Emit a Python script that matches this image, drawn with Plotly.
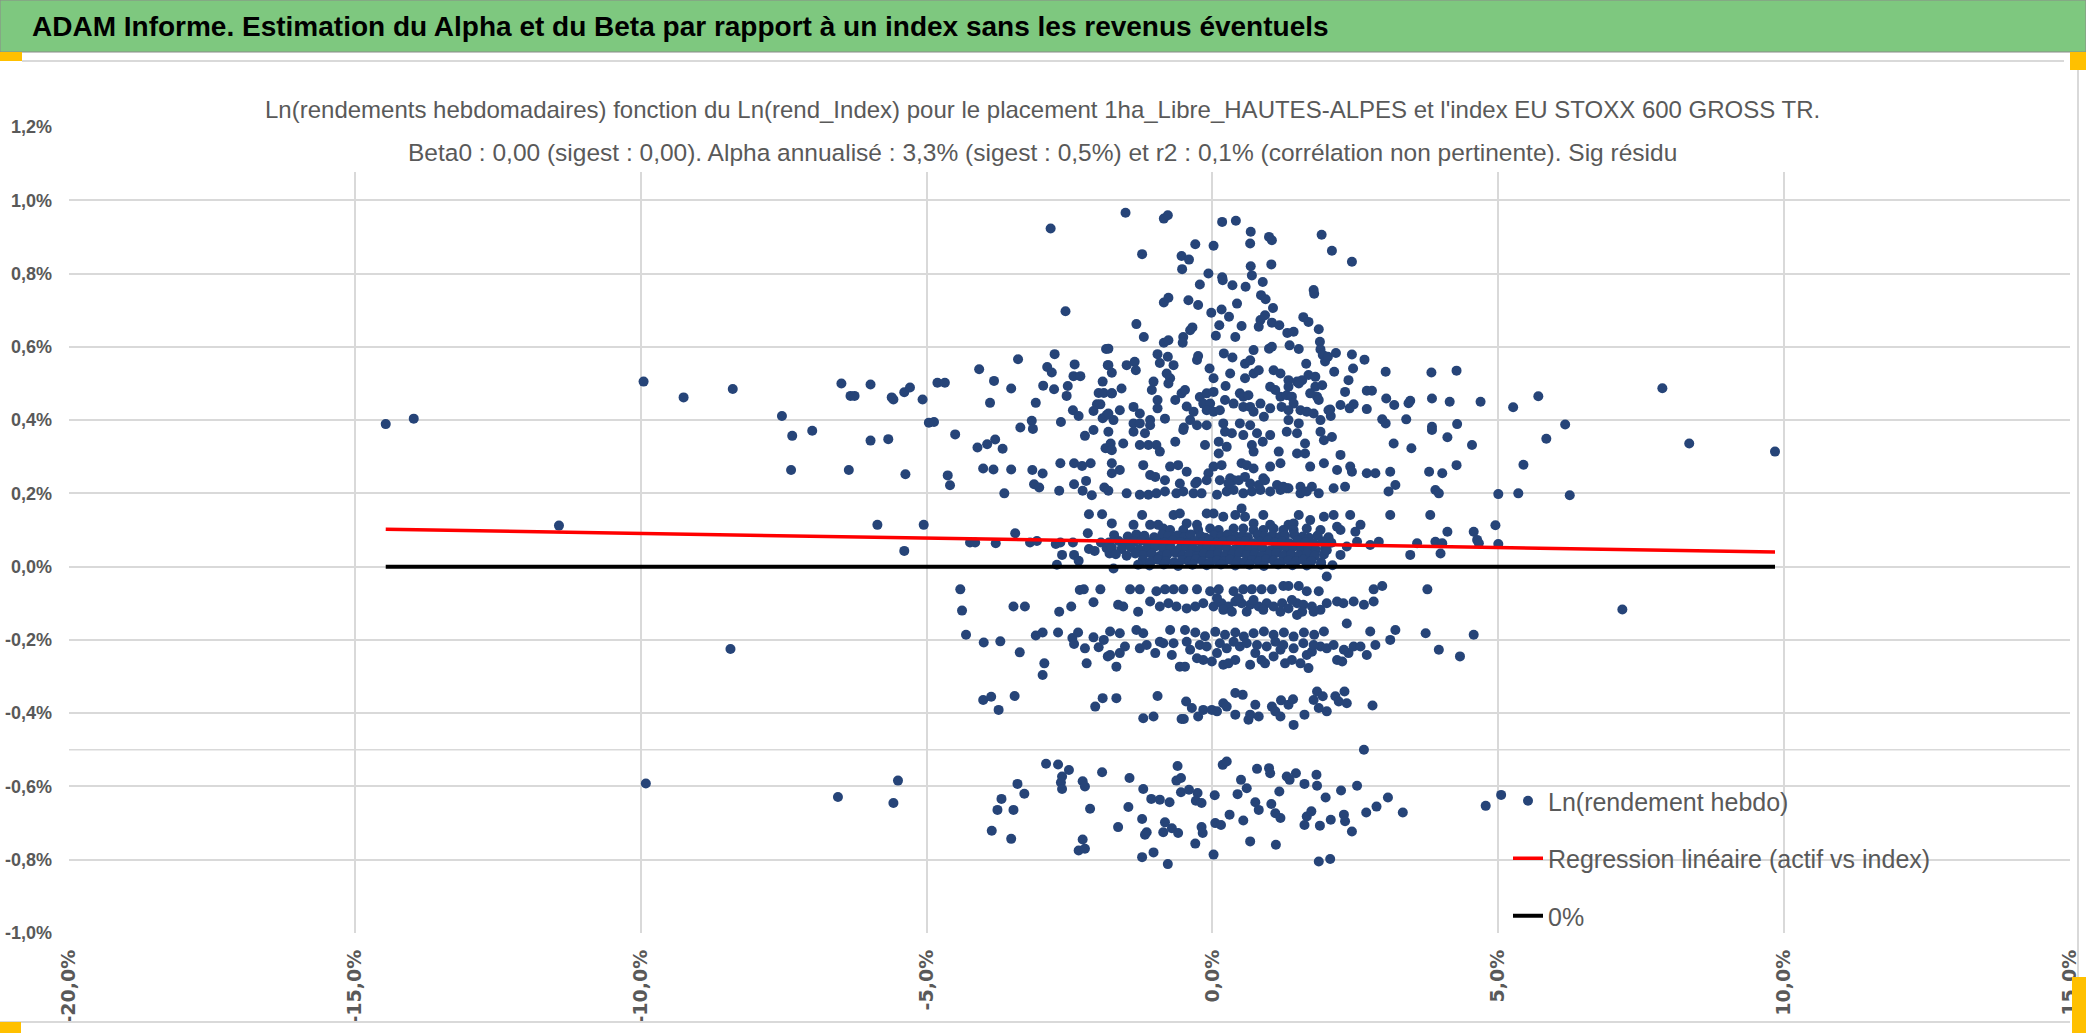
"""Alpha / Beta scatter : Ln(rendement hebdo) vs Ln(rend_Index)."""

import plotly.graph_objects as go

# --- data (values in %) -----------------------------------------------------
# isolated points, far left / far right
outer_points = [(-14.46, 0.389), (-13.97, 0.404), (-11.43, 0.112), (-9.95, 0.505),
                (-9.25, 0.462), (-9.91, -0.592), (5.26, 0.435), (5.44, 0.278),
                (5.70, 0.465), (5.84, 0.349), (5.0, 0.198), (5.35, 0.2),
                (6.17, 0.388), (6.25, 0.195), (7.17, -0.117), (7.87, 0.487),
                (8.34, 0.336), (9.84, 0.314), (4.95, 0.113), (5.0, 0.062),
                (5.05, -0.623)]

# index between -9% and -1.8%
left_points = [
    (-2.83, 0.923), (-2.57, 0.697), (-1.86, 0.594), (-2.76, 0.580), (-3.40, 0.566),
    (-4.08, 0.539), (-2.89, 0.545), (-2.81, 0.53), (-2.41, 0.552), (-2.43, 0.52),
    (-2.31, 0.52), (-1.83, 0.55), (-8.39, 0.485), (-6.49, 0.50), (-5.98, 0.497),
    (-6.33, 0.466), (-6.26, 0.466), (-5.61, 0.462), (-5.58, 0.456), (-5.39, 0.476),
    (-5.29, 0.489), (-5.07, 0.456), (-4.81, 0.502), (-4.68, 0.502), (-3.82, 0.507),
    (-3.52, 0.486), (-3.89, 0.447), (-2.96, 0.494), (-2.77, 0.484), (-2.53, 0.493),
    (-2.55, 0.466), (-3.09, 0.447), (-2.44, 0.427), (-2.34, 0.411), (-2.08, 0.425),
    (-2.02, 0.443), (-1.96, 0.443), (-1.99, 0.474), (-1.90, 0.474), (-1.92, 0.405),
    (-1.85, 0.414), (-1.92, 0.505), (-1.76, 0.473), (-7.53, 0.411), (-7.35, 0.357),
    (-7.0, 0.371), (-7.37, 0.264), (-6.36, 0.264), (-5.98, 0.344), (-5.67, 0.348),
    (-5.37, 0.252), (-4.96, 0.393), (-4.87, 0.395), (-4.50, 0.361), (-4.63, 0.249),
    (-4.59, 0.222), (-4.11, 0.325), (-3.94, 0.334), (-3.80, 0.347), (-3.67, 0.322),
    (-4.01, 0.268), (-3.83, 0.265), (-3.52, 0.265), (-3.64, 0.200), (-3.36, 0.38),
    (-3.16, 0.398), (-3.14, 0.376), (-2.65, 0.395), (-3.15, 0.264), (-2.97, 0.254),
    (-3.12, 0.225), (-3.03, 0.216), (-2.66, 0.282), (-2.68, 0.207), (-2.42, 0.282),
    (-2.28, 0.275), (-2.13, 0.282), (-2.42, 0.225), (-2.27, 0.207), (-2.21, 0.234),
    (-2.11, 0.195), (-2.23, 0.357), (-2.08, 0.373), (-1.82, 0.368), (-1.87, 0.323),
    (-1.82, 0.323), (-1.89, 0.216), (-1.82, 0.207), (-2.16, 0.143), (-1.93, 0.143),
    (-5.86, 0.114), (-5.05, 0.114), (-5.39, 0.043), (-4.24, 0.066), (-4.15, 0.066),
    (-3.79, 0.064), (-3.45, 0.091), (-3.19, 0.066), (-3.07, 0.07), (-2.74, 0.062),
    (-2.66, 0.066), (-2.63, 0.032), (-2.72, 0.005), (-2.44, 0.066), (-2.42, 0.032),
    (-2.34, 0.016), (-2.18, 0.091), (-2.16, 0.048), (-2.06, 0.043), (-1.95, 0.066),
    (-1.85, 0.05), (-1.80, 0.036), (-4.41, -0.062), (-4.38, -0.12), (-3.48, -0.109),
    (-3.28, -0.109), (-2.68, -0.123), (-2.47, -0.109), (-2.32, -0.064), (-2.25, -0.062),
    (-2.08, -0.097), (-1.96, -0.062), (-8.43, -0.225), (-4.31, -0.186), (-4.0, -0.207),
    (-3.71, -0.204), (-3.37, -0.234), (-3.09, -0.188), (-2.97, -0.18), (-2.70, -0.18),
    (-2.45, -0.195), (-2.35, -0.18), (-2.42, -0.211), (-2.23, -0.223), (-2.08, -0.193),
    (-1.99, -0.220), (-1.90, -0.2), (-1.83, -0.245), (-1.79, -0.177), (-2.94, -0.264),
    (-2.97, -0.296), (-2.20, -0.264), (-4.01, -0.364), (-3.87, -0.355), (-3.46, -0.353),
    (-3.74, -0.391), (-2.05, -0.382), (-1.92, -0.359), (-6.55, -0.629), (-5.58, -0.645),
    (-5.50, -0.584), (-3.86, -0.721), (-3.76, -0.664), (-3.69, -0.634), (-3.48, -0.664),
    (-3.52, -0.743), (-3.41, -0.593), (-3.29, -0.620), (-2.91, -0.538), (-2.70, -0.54),
    (-2.51, -0.555), (-2.63, -0.573), (-2.65, -0.589), (-2.63, -0.607), (-2.27, -0.586),
    (-2.23, -0.6), (-2.14, -0.661), (-1.93, -0.561), (-2.27, -0.745), (-2.34, -0.775),
    (-2.23, -0.770)]

# centre, upper half (> 0.38%)
upper_points = [
    (-1.52, 0.966), (-0.85, 0.95), (-0.78, 0.959), (0.17, 0.941), (0.41, 0.944),
    (0.67, 0.914), (0.66, 0.882), (0.99, 0.900), (1.04, 0.891), (1.91, 0.906),
    (2.09, 0.862), (2.44, 0.832), (-1.23, 0.853), (-0.30, 0.88), (0.02, 0.876),
    (-0.54, 0.848), (-0.41, 0.838), (-0.53, 0.812), (-0.07, 0.8), (0.67, 0.82),
    (0.69, 0.795), (1.03, 0.825), (0.17, 0.79), (0.18, 0.782), (0.35, 0.768),
    (0.58, 0.764), (0.88, 0.777), (-0.22, 0.77), (1.77, 0.755), (1.78, 0.745),
    (-0.85, 0.721), (-0.77, 0.734), (-0.42, 0.727), (-0.25, 0.714), (0.85, 0.741),
    (0.93, 0.73), (1.06, 0.706), (0.43, 0.718), (0.16, 0.702), (-0.02, 0.693),
    (0.29, 0.682), (0.12, 0.659), (0.51, 0.657), (-1.33, 0.662), (-1.20, 0.627),
    (-0.35, 0.653), (-0.39, 0.645), (0.84, 0.673), (0.92, 0.686), (0.81, 0.655),
    (1.04, 0.666), (1.17, 0.659), (1.59, 0.681), (1.68, 0.668), (1.86, 0.648),
    (1.31, 0.638), (1.42, 0.641), (0.06, 0.630), (0.40, 0.627), (-0.51, 0.627),
    (-0.52, 0.611), (-0.85, 0.611), (-0.77, 0.618), (1.35, 0.604), (1.51, 0.594),
    (1.88, 0.614), (1.89, 0.593), (1.93, 0.578), (1.97, 0.560), (2.02, 0.573),
    (0.99, 0.595), (1.04, 0.6), (0.72, 0.591), (2.16, 0.583), (2.44, 0.579),
    (2.66, 0.565), (3.03, 0.532), (3.83, 0.530), (4.27, 0.535), (2.46, 0.541),
    (2.13, 0.532), (2.38, 0.509), (2.32, 0.477), (2.70, 0.48), (2.79, 0.48),
    (3.04, 0.459), (3.18, 0.441), (3.46, 0.453), (3.43, 0.446), (3.84, 0.459),
    (4.15, 0.45), (4.69, 0.45), (2.70, 0.43), (2.47, 0.443), (2.40, 0.432),
    (2.24, 0.441), (2.97, 0.402), (3.03, 0.391), (3.39, 0.402), (3.84, 0.382),
    (4.28, 0.389), (2.06, 0.429), (2.07, 0.411), (2.03, 0.427), (0.20, 0.582),
    (0.35, 0.571), (-0.27, 0.564), (-0.25, 0.575), (-0.05, 0.541), (0.02, 0.514),
    (0.31, 0.527), (0.23, 0.493), (0.57, 0.514), (0.72, 0.527), (0.81, 0.536),
    (0.57, 0.554), (0.66, 0.563), (1.07, 0.536), (1.19, 0.527), (1.33, 0.509),
    (1.48, 0.505), (1.57, 0.509), (1.68, 0.523), (1.80, 0.518), (1.64, 0.554),
    (1.51, 0.5), (-0.96, 0.58), (-0.78, 0.573), (-0.92, 0.556), (-0.68, 0.55),
    (-0.80, 0.527), (-0.74, 0.514), (-0.77, 0.5), (-1.03, 0.505), (-1.06, 0.482),
    (-0.96, 0.455), (-0.96, 0.432), (-0.65, 0.455), (-0.54, 0.473), (-0.48, 0.482),
    (-0.45, 0.437), (-0.33, 0.423), (-0.39, 0.4), (-1.50, 0.55), (-1.36, 0.559),
    (-1.34, 0.536), (-1.82, 0.595), (-1.82, 0.55), (-1.76, 0.529), (-1.59, 0.486),
    (-1.76, 0.473), (-1.62, 0.427), (-1.38, 0.436), (-1.27, 0.418), (-1.09, 0.4),
    (-1.73, 0.4), (-1.82, 0.418), (-0.83, 0.404), (-0.22, 0.463), (-0.10, 0.473),
    (0.02, 0.477), (-0.16, 0.445), (-0.04, 0.445), (-0.10, 0.427), (0.02, 0.423),
    (0.13, 0.427), (0.22, 0.455), (0.37, 0.445), (0.48, 0.473), (0.54, 0.464),
    (0.63, 0.468), (0.54, 0.436), (0.66, 0.436), (0.72, 0.423), (0.84, 0.445),
    (0.90, 0.409), (1.01, 0.432), (1.19, 0.464), (1.30, 0.468), (1.39, 0.464),
    (1.42, 0.445), (1.21, 0.436), (1.33, 0.427), (1.54, 0.427), (1.65, 0.423),
    (1.77, 0.418), (1.83, 0.464), (1.89, 0.4), (1.33, 0.4), (1.51, 0.391),
    (1.01, 0.491), (1.10, 0.482), (1.33, 0.491), (1.80, 0.491), (1.92, 0.495),
    (1.71, 0.473), (1.86, 0.455), (0.48, 0.391), (0.66, 0.386), (0.19, 0.391),
    (-0.10, 0.386), (-0.27, 0.386), (-1.38, 0.391), (-1.27, 0.391), (-1.09, 0.386),
    (-0.50, 0.380)]

# centre, 0.09% to 0.37%
middle_points = [
    (-1.78, 0.336), (-1.56, 0.336), (-1.76, 0.318), (-1.27, 0.332), (-1.12, 0.332),
    (-0.98, 0.332), (-0.92, 0.314), (-0.65, 0.341), (-0.13, 0.332), (0.11, 0.341),
    (0.11, 0.309), (0.25, 0.327), (0.69, 0.332), (0.72, 0.314), (0.88, 0.341),
    (1.16, 0.314), (1.48, 0.309), (1.62, 0.309), (1.62, 0.336), (1.95, 0.345),
    (2.09, 0.354), (2.24, 0.305), (3.17, 0.336), (3.48, 0.323), (4.11, 0.353),
    (4.54, 0.332), (-1.38, 0.368), (-1.18, 0.364), (-0.51, 0.373), (0.22, 0.368),
    (0.34, 0.364), (0.54, 0.359), (0.78, 0.364), (1.01, 0.359), (1.30, 0.368),
    (1.48, 0.364), (1.89, 0.368), (3.84, 0.373),
    (-1.76, 0.282), (-1.76, 0.255), (-1.62, 0.264), (-1.21, 0.277), (-1.09, 0.25),
    (-1.0, 0.245), (-0.83, 0.236), (-0.74, 0.273), (-0.60, 0.277), (-0.45, 0.259),
    (-0.27, 0.232), (-0.07, 0.255), (0.02, 0.273), (0.16, 0.277), (0.31, 0.241),
    (0.37, 0.236), (0.51, 0.282), (0.60, 0.277), (0.72, 0.268), (0.89, 0.241),
    (1.01, 0.273), (1.19, 0.282), (1.30, 0.214), (1.54, 0.218), (1.71, 0.273),
    (1.74, 0.218), (1.86, 0.2), (1.95, 0.282), (2.18, 0.264), (2.12, 0.214),
    (2.32, 0.218), (2.41, 0.273), (2.44, 0.259), (2.70, 0.255), (2.85, 0.255),
    (3.11, 0.259), (3.08, 0.205), (3.20, 0.223), (3.79, 0.259), (4.02, 0.255),
    (4.27, 0.277), (3.90, 0.209), (3.96, 0.2),
    (-1.50, 0.2), (-1.27, 0.196), (-1.12, 0.196), (-0.98, 0.2), (-0.83, 0.205),
    (-0.63, 0.2), (-0.51, 0.205), (-0.33, 0.2), (-0.19, 0.2), (0.08, 0.196),
    (0.25, 0.205), (0.37, 0.209), (0.54, 0.2), (0.69, 0.205), (0.84, 0.209),
    (1.01, 0.205), (1.19, 0.209), (1.33, 0.214), (1.54, 0.2), (1.65, 0.205),
    (-0.57, 0.227), (-0.30, 0.227), (-0.10, 0.236), (0.13, 0.236), (0.28, 0.227),
    (0.46, 0.236), (0.57, 0.245), (0.66, 0.227), (0.81, 0.223), (0.92, 0.236),
    (1.13, 0.223), (1.24, 0.218), (0.51, 0.159),
    (-1.76, 0.118), (-1.38, 0.114), (-1.23, 0.141), (-1.09, 0.114), (-0.95, 0.114),
    (-0.68, 0.141), (-0.57, 0.145), (-0.45, 0.118), (-0.27, 0.114), (-0.10, 0.145),
    (0.02, 0.145), (0.19, 0.136), (0.40, 0.141), (0.57, 0.136), (0.72, 0.118),
    (0.89, 0.141), (1.01, 0.114), (1.33, 0.114), (1.51, 0.141), (1.42, 0.118),
    (1.71, 0.127), (1.95, 0.136), (2.12, 0.141), (2.18, 0.109), (2.41, 0.141),
    (2.59, 0.114), (3.11, 0.141), (3.81, 0.141), (2.50, 0.095), (4.11, 0.095),
    (4.57, 0.095),
    (-0.86, 0.104), (-0.74, 0.1), (-0.51, 0.1), (-0.25, 0.1), (-0.04, 0.104),
    (0.11, 0.1), (0.37, 0.104), (0.54, 0.104), (0.72, 0.1), (0.89, 0.1),
    (1.07, 0.104), (1.24, 0.1), (1.42, 0.1), (1.65, 0.104), (1.89, 0.1), (2.24, 0.1)]

# centre, dense cluster just above 0%
core_points = [
    (-1.72, 0.086), (-1.48, 0.082), (-1.33, 0.088), (-1.19, 0.084), (-1.02, 0.080),
    (-0.88, 0.087), (-0.77, 0.083), (-0.61, 0.085), (-0.49, 0.081), (-0.38, 0.088),
    (-0.21, 0.084), (-0.12, 0.079), (0.03, 0.086), (0.16, 0.083), (0.27, 0.088),
    (0.41, 0.082), (0.53, 0.085), (0.62, 0.080), (0.79, 0.087), (0.91, 0.083),
    (1.05, 0.086), (1.18, 0.081), (1.27, 0.084), (1.43, 0.088), (1.58, 0.082),
    (1.69, 0.079), (1.84, 0.085), (2.03, 0.080),
    (-1.81, 0.066), (-1.64, 0.070), (-1.52, 0.064), (-1.37, 0.068), (-1.24, 0.071),
    (-1.11, 0.065), (-0.97, 0.069), (-0.84, 0.066), (-0.69, 0.072), (-0.55, 0.067),
    (-0.43, 0.064), (-0.31, 0.070), (-0.18, 0.066), (-0.06, 0.071), (0.07, 0.065),
    (0.19, 0.069), (0.33, 0.073), (0.46, 0.066), (0.58, 0.070), (0.71, 0.064),
    (0.83, 0.068), (0.97, 0.072), (1.09, 0.066), (1.22, 0.069), (1.35, 0.064),
    (1.49, 0.071), (1.63, 0.067), (1.77, 0.063), (1.92, 0.069), (2.08, 0.065),
    (-1.76, 0.052), (-1.59, 0.048), (-1.43, 0.053), (-1.28, 0.047), (-1.14, 0.051),
    (-1.00, 0.055), (-0.86, 0.049), (-0.73, 0.052), (-0.59, 0.046), (-0.46, 0.054),
    (-0.34, 0.050), (-0.22, 0.047), (-0.09, 0.053), (0.04, 0.049), (0.13, 0.055),
    (0.25, 0.051), (0.38, 0.046), (0.51, 0.052), (0.64, 0.048), (0.77, 0.054),
    (0.88, 0.050), (1.02, 0.045), (1.15, 0.052), (1.30, 0.049), (1.41, 0.054),
    (1.55, 0.047), (1.68, 0.051), (1.81, 0.046), (1.97, 0.050),
    (-1.69, 0.034), (-1.50, 0.030), (-1.35, 0.036), (-1.21, 0.031), (-1.06, 0.035),
    (-0.92, 0.029), (-0.79, 0.033), (-0.64, 0.037), (-0.52, 0.031), (-0.40, 0.034),
    (-0.27, 0.029), (-0.15, 0.035), (-0.03, 0.032), (0.10, 0.036), (0.22, 0.030),
    (0.35, 0.034), (0.47, 0.038), (0.60, 0.031), (0.74, 0.035), (0.86, 0.029),
    (0.99, 0.033), (1.12, 0.037), (1.24, 0.030), (1.38, 0.034), (1.52, 0.031),
    (1.66, 0.036), (1.79, 0.030), (1.95, 0.033),
    (-1.22, 0.017), (-1.08, 0.013), (-0.95, 0.019), (-0.81, 0.015), (-0.67, 0.012),
    (-0.53, 0.018), (-0.41, 0.014), (-0.29, 0.020), (-0.17, 0.015), (-0.04, 0.011),
    (0.08, 0.017), (0.20, 0.013), (0.31, 0.019), (0.44, 0.015), (0.56, 0.012),
    (0.69, 0.018), (0.81, 0.014), (0.94, 0.020), (1.07, 0.016), (1.20, 0.012),
    (1.33, 0.017), (1.46, 0.014), (1.59, 0.019), (1.73, 0.015), (1.90, 0.012),
    (-1.30, 0.005), (-1.10, 0.003), (-0.85, 0.006), (-0.60, 0.002), (-0.35, 0.005),
    (-0.10, 0.004), (0.15, 0.006), (0.40, 0.003), (0.65, 0.005), (0.90, 0.002),
    (1.15, 0.006), (1.40, 0.004), (1.65, 0.003), (1.90, 0.005), (2.10, 0.004),
    (2.53, 0.068), (2.76, 0.059), (2.91, 0.068), (3.58, 0.064), (3.90, 0.068),
    (4.02, 0.064), (3.46, 0.032), (3.99, 0.036), (4.63, 0.073), (4.66, 0.064),
    (2.00, 0.045), (2.24, 0.032), (2.35, 0.055), (2.00, -0.027), (-1.73, -0.005)]

# centre, -0.05% to -0.45%
lower_points = [
    (-1.44, -0.062), (-1.27, -0.062), (-0.98, -0.067), (-0.83, -0.062), (-0.68, -0.062),
    (-0.51, -0.062), (-0.27, -0.062), (-0.04, -0.067), (0.11, -0.062), (0.37, -0.067),
    (0.54, -0.062), (0.69, -0.062), (0.86, -0.062), (1.04, -0.062), (1.24, -0.053),
    (1.33, -0.053), (1.51, -0.053), (1.65, -0.067), (1.86, -0.067), (2.82, -0.062),
    (2.97, -0.053), (3.76, -0.062),
    (-1.65, -0.104), (-1.56, -0.109), (-1.30, -0.123), (-1.09, -0.095), (-0.92, -0.109),
    (-0.77, -0.1), (-0.63, -0.109), (-0.45, -0.114), (-0.30, -0.109), (-0.16, -0.1),
    (0.02, -0.109), (0.16, -0.1), (0.28, -0.109), (0.40, -0.095), (0.51, -0.1),
    (0.66, -0.104), (0.81, -0.109), (0.95, -0.1), (1.07, -0.109), (1.22, -0.1),
    (1.33, -0.114), (1.48, -0.1), (1.59, -0.104), (1.74, -0.109), (1.89, -0.118),
    (2.00, -0.1), (2.18, -0.095), (2.29, -0.1), (2.47, -0.095), (2.65, -0.104),
    (2.82, -0.095), (1.48, -0.132),
    (0.08, -0.086), (0.19, -0.118), (0.34, -0.123), (0.46, -0.086), (0.60, -0.123),
    (0.72, -0.091), (0.89, -0.118), (1.19, -0.123), (1.39, -0.091), (1.57, -0.123),
    (1.77, -0.123), (2.35, -0.155),
    (-1.62, -0.182), (-1.33, -0.173), (-1.21, -0.182), (-0.74, -0.173), (-0.48, -0.173),
    (2.76, -0.177), (3.20, -0.173), (3.73, -0.182), (4.57, -0.186),
    (-0.30, -0.18), (-0.13, -0.19), (0.05, -0.178), (0.22, -0.186), (0.40, -0.18),
    (0.55, -0.191), (0.72, -0.182), (0.90, -0.177), (1.07, -0.186), (1.25, -0.18),
    (1.42, -0.191), (1.60, -0.18), (1.78, -0.186), (1.95, -0.177),
    (-1.68, -0.273), (-1.79, -0.241), (-1.62, -0.236), (-1.53, -0.218), (-1.27, -0.223),
    (-1.15, -0.214), (-1.0, -0.236), (-0.86, -0.209), (-0.71, -0.241), (-0.57, -0.273),
    (-0.48, -0.273), (-0.39, -0.227), (-0.27, -0.25), (-0.16, -0.255), (-0.01, -0.259),
    (0.08, -0.236), (0.19, -0.268), (0.28, -0.264), (0.40, -0.255), (0.48, -0.218),
    (0.66, -0.268), (0.75, -0.236), (0.86, -0.255), (0.92, -0.264), (1.07, -0.245),
    (1.19, -0.227), (1.27, -0.264), (1.39, -0.255), (1.54, -0.264), (1.68, -0.277),
    (1.65, -0.241), (1.74, -0.232), (1.89, -0.218), (2.0, -0.223), (2.18, -0.255),
    (2.27, -0.259), (2.38, -0.236), (2.47, -0.218), (2.59, -0.218), (2.70, -0.241),
    (2.85, -0.214), (3.11, -0.2), (3.96, -0.227), (4.33, -0.245),
    (-0.92, -0.205), (-0.68, -0.209), (-0.45, -0.205), (-0.22, -0.214), (-0.10, -0.218),
    (0.13, -0.209), (0.25, -0.223), (0.37, -0.205), (0.60, -0.209), (0.78, -0.214),
    (0.95, -0.218), (1.10, -0.205), (1.24, -0.214), (1.42, -0.223), (1.59, -0.209),
    (1.77, -0.214), (2.12, -0.214), (2.30, -0.227),
    (-1.68, -0.359), (-0.96, -0.353), (-1.21, -0.414), (-1.03, -0.409), (-0.54, -0.416),
    (-0.50, -0.416), (-0.46, -0.368), (-0.36, -0.386), (-0.25, -0.409), (-0.16, -0.391),
    (-0.01, -0.391), (0.08, -0.395), (0.19, -0.373), (0.25, -0.382), (0.40, -0.404),
    (0.40, -0.345), (0.53, -0.35), (0.63, -0.418), (0.66, -0.404), (0.75, -0.377),
    (0.81, -0.409), (1.04, -0.382), (1.10, -0.395), (1.19, -0.409), (1.20, -0.365),
    (1.33, -0.377), (1.41, -0.362), (1.42, -0.432), (1.61, -0.404), (1.77, -0.364),
    (1.83, -0.341), (1.86, -0.386), (1.93, -0.354), (2.0, -0.395), (2.15, -0.354),
    (2.21, -0.368), (2.31, -0.341), (2.35, -0.373), (2.80, -0.379), (2.65, -0.5)]

# centre, below -0.5%
bottom_points = [
    (-1.45, -0.577), (-1.21, -0.607), (-1.07, -0.634), (-0.92, -0.636), (-0.75, -0.643),
    (-0.61, -0.544), (-0.63, -0.584), (-0.55, -0.577), (-0.55, -0.616), (-0.41, -0.609),
    (-0.26, -0.618), (-0.29, -0.639), (-0.19, -0.645), (0.04, -0.624), (0.18, -0.541),
    (0.25, -0.532), (0.50, -0.582), (0.44, -0.621), (0.60, -0.605), (0.78, -0.552),
    (0.75, -0.643), (0.81, -0.664), (0.99, -0.55), (1.01, -0.564), (1.03, -0.648),
    (1.17, -0.614), (1.10, -0.673), (1.19, -0.686), (1.30, -0.573), (1.35, -0.582),
    (1.46, -0.564), (1.61, -0.593), (1.82, -0.568), (1.83, -0.598), (1.98, -0.630),
    (2.25, -0.611), (2.53, -0.598), (3.07, -0.630), (2.87, -0.655), (2.69, -0.671),
    (3.33, -0.671), (4.78, -0.653), (-1.47, -0.656), (-1.65, -0.711), (-1.23, -0.689),
    (-1.15, -0.725), (-1.18, -0.732), (-0.83, -0.698), (-0.86, -0.725), (-0.71, -0.714),
    (-0.60, -0.727), (-0.19, -0.711), (-0.17, -0.727), (0.05, -0.7), (0.15, -0.705),
    (0.30, -0.677), (0.54, -0.693), (0.66, -0.75), (1.11, -0.759), (1.61, -0.705),
    (1.65, -0.682), (1.73, -0.668), (1.88, -0.707), (2.07, -0.691), (2.30, -0.677),
    (2.32, -0.695), (2.44, -0.723), (-0.30, -0.756), (-1.23, -0.793), (-1.03, -0.78),
    (-0.78, -0.812), (0.02, -0.786), (1.86, -0.805), (2.06, -0.798)]

# regression line and 0% reference, drawn over the index range
reg_x = [-14.46, 9.84]
reg_y = [0.102, 0.040]
zero_x = [-14.46, 9.84]
zero_y = [0.0, 0.0]

x_ticks = [-20, -15, -10, -5, 0, 5, 10, 15]
x_labels = ['-20,0%', '-15,0%', '-10,0%', '-5,0%', '0,0%', '5,0%', '10,0%', '15,0%']
y_ticks = [-1.0, -0.8, -0.6, -0.4, -0.2, 0.0, 0.2, 0.4, 0.6, 0.8, 1.0, 1.2]
y_labels = ['-1,0%', '-0,8%', '-0,6%', '-0,4%', '-0,2%', '0,0%', '0,2%', '0,4%',
            '0,6%', '0,8%', '1,0%', '1,2%']

banner_title = ("ADAM Informe. Estimation du Alpha et du Beta par rapport "
                "à un index sans les revenus éventuels")
title_line1 = ("Ln(rendements hebdomadaires) fonction du Ln(rend_Index) pour le "
               "placement 1ha_Libre_HAUTES-ALPES et l'index EU STOXX 600 GROSS TR.")
title_line2 = ("Beta0 : 0,00 (sigest : 0,00). Alpha annualisé : 3,3% (sigest : 0,5%) "
               "et r2 : 0,1% (corrélation non pertinente). Sig résidu")

# --- geometry (pixels of the 2086x1035 page) -------------------------------
W, H = 2086, 1035
PLOT_L, PLOT_R, PLOT_T, PLOT_B = 69, 2070, 127, 933
GRID = '#D9D9D9'
TEXT = '#595959'


def px_x(p):
    """Page pixel -> paper x."""
    return (p - PLOT_L) / (PLOT_R - PLOT_L)


def px_y(p):
    """Page pixel -> paper y."""
    return (PLOT_B - p) / (PLOT_B - PLOT_T)


points = (outer_points + left_points + upper_points + middle_points
          + core_points + lower_points + bottom_points)

fig = go.Figure()
fig.add_trace(go.Scatter(x=[p[0] for p in points], y=[p[1] for p in points],
                         mode='markers', name='Ln(rendement hebdo)',
                         legendgroup='a',
                         marker=dict(color='#264478', size=10)))
fig.add_trace(go.Scatter(x=reg_x, y=reg_y, mode='lines', legendgroup='b',
                         name='Regression linéaire (actif vs index)',
                         line=dict(color='#FF0000', width=3.5)))
fig.add_trace(go.Scatter(x=zero_x, y=zero_y, mode='lines', name='0%',
                         legendgroup='c',
                         line=dict(color='#000000', width=4)))

shapes = [
    # extra horizontal rule at -0,5%
    dict(type='line', xref='paper', yref='y', x0=0, x1=1, y0=-0.5, y1=-0.5,
         line=dict(color=GRID, width=1.5), layer='below'),
    # white box behind the chart title
    dict(type='rect', xref='paper', yref='paper', x0=px_x(243), x1=px_x(1836),
         y0=px_y(172), y1=px_y(92), fillcolor='white', line=dict(width=0),
         layer='above'),
    # green banner
    dict(type='rect', xref='paper', yref='paper', x0=px_x(0), x1=px_x(W),
         y0=px_y(52), y1=px_y(0), fillcolor='#7EC87F',
         line=dict(color='#8A8A8A', width=1)),
    # rule under the banner
    dict(type='line', xref='paper', yref='paper', x0=px_x(22), x1=px_x(2064),
         y0=px_y(61), y1=px_y(61), line=dict(color=GRID, width=2)),
    # bottom rule and right frame
    dict(type='line', xref='paper', yref='paper', x0=px_x(0), x1=px_x(2070),
         y0=px_y(1022), y1=px_y(1022), line=dict(color=GRID, width=2)),
    dict(type='line', xref='paper', yref='paper', x0=px_x(2078), x1=px_x(2078),
         y0=px_y(70), y1=px_y(977), line=dict(color=GRID, width=2)),
    # selection handles
    dict(type='rect', xref='paper', yref='paper', x0=px_x(0), x1=px_x(22),
         y0=px_y(61), y1=px_y(52), fillcolor='#FFC000', line=dict(width=0)),
    dict(type='rect', xref='paper', yref='paper', x0=px_x(2070), x1=px_x(W),
         y0=px_y(70), y1=px_y(52), fillcolor='#FFC000', line=dict(width=0)),
    dict(type='rect', xref='paper', yref='paper', x0=px_x(2072), x1=px_x(W),
         y0=px_y(1033), y1=px_y(977), fillcolor='#FFC000', line=dict(width=0)),
    dict(type='rect', xref='paper', yref='paper', x0=px_x(0), x1=px_x(21),
         y0=px_y(1033), y1=px_y(1022), fillcolor='#FFC000', line=dict(width=0)),
]

annotations = [
    dict(text=banner_title, xref='paper', yref='paper', x=px_x(30), y=px_y(27),
         xanchor='left', yanchor='middle', showarrow=False,
         font=dict(family='Liberation Sans', size=28, color='black',
                   weight='bold')),
    dict(text=title_line1, xref='paper', yref='paper', x=px_x(1042), y=px_y(110),
         xanchor='center', yanchor='middle', showarrow=False,
         font=dict(family='Liberation Sans', size=24, color=TEXT)),
    dict(text=title_line2, xref='paper', yref='paper', x=px_x(1042), y=px_y(152),
         xanchor='center', yanchor='middle', showarrow=False,
         font=dict(family='Liberation Sans', size=24.5, color=TEXT)),
]

fig.update_layout(
    width=W, height=H,
    margin=dict(l=PLOT_L, r=W - PLOT_R, t=PLOT_T, b=H - PLOT_B),
    paper_bgcolor='white', plot_bgcolor='white',
    shapes=shapes, annotations=annotations,
    showlegend=True,
    legend=dict(x=px_x(1508), y=px_y(778), xanchor='left', yanchor='top',
                traceorder='grouped', tracegroupgap=22,
                bgcolor='rgba(0,0,0,0)',
                font=dict(family='Liberation Sans', size=25, color=TEXT)),
)
fig.update_xaxes(range=[-20, 15], tickvals=x_ticks, ticktext=x_labels,
                 tickangle=-90, showgrid=True, gridcolor=GRID, gridwidth=1.5,
                 zeroline=False, showline=False, ticklabelstandoff=12,
                 automargin=False,
                 tickfont=dict(family='DejaVu Sans', size=19, color=TEXT,
                               weight='bold'))
fig.update_yaxes(range=[-1.0, 1.2], tickvals=y_ticks, ticktext=y_labels,
                 showgrid=True, gridcolor=GRID, gridwidth=1.5,
                 zeroline=False, showline=False, ticklabelstandoff=16,
                 automargin=False,
                 tickfont=dict(family='Liberation Sans', size=18, color=TEXT,
                               weight='bold'))

# page without the browser's default body margin, no mode bar
fig.write_html("out.html", config={'displayModeBar': False},
               post_script="document.body.style.margin='0px';")
